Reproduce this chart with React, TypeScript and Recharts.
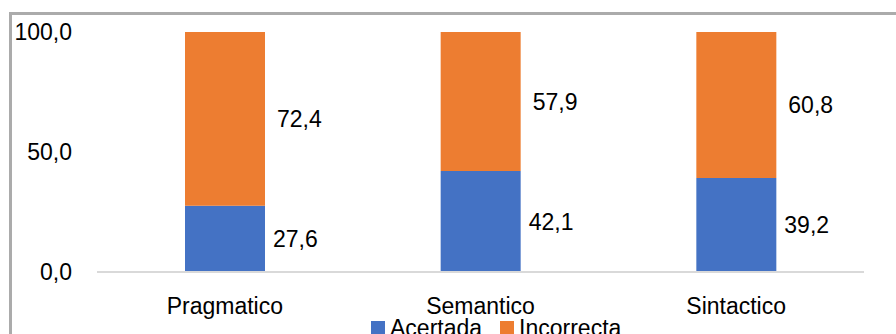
import React from "react";
import { BarChart, Bar, XAxis, YAxis, LabelList } from "recharts";

const categories = ["Pragmatico", "Semantico", "Sintactico"];
const acertada = [27.6, 42.1, 39.2];
const incorrecta = [72.4, 57.9, 60.8];
const yTicks = [0, 50, 100];
const series = [
  { key: "Acertada", color: "#4472C4" },
  { key: "Incorrecta", color: "#ED7D31" },
];

const data = categories.map((name, i) => ({
  name,
  Acertada: acertada[i],
  Incorrecta: incorrecta[i],
}));

const FONT = "'Liberation Sans', Arial, sans-serif";
const FS = 23;
const fmt = (v: any) => Number(v).toFixed(1).replace(".", ",");

const App = () => {
  return (
    <div style={{ position: "absolute", left: 0, top: 0, width: 896, height: 334, overflow: "hidden", background: "#fff" }}>
      <div
        style={{
          position: "absolute",
          left: 9,
          top: 12,
          width: 1000,
          height: 1000,
          borderLeft: "3px solid #ababab",
          borderTop: "3px solid #ababab",
        }}
      />
      <div style={{ position: "absolute", left: 0, top: 0 }}>
        <BarChart
          width={896}
          height={334}
          data={data}
          margin={{ top: 32, right: 32, bottom: 0, left: 10 }}
          style={{ fontFamily: FONT }}
        >
          <XAxis
            dataKey="name"
            tickLine={false}
            tickSize={0}
            tickMargin={26}
            axisLine={{ stroke: "#d9d9d9", strokeWidth: 2 }}
            tick={{ fill: "#000", fontSize: FS }}
            height={62}
          />
          <YAxis
            domain={[0, 100]}
            ticks={yTicks}
            width={87}
            axisLine={false}
            tickLine={false}
            tickSize={0}
            tickMargin={25}
            tickFormatter={fmt}
            tick={{ fill: "#000", fontSize: FS }}
          />
          <Bar dataKey="Acertada" stackId="a" fill="#4472C4" barSize={80} isAnimationActive={false}>
            <LabelList dataKey="Acertada" position="right" offset={8} formatter={fmt} fill="#000" fontSize={FS} />
          </Bar>
          <Bar dataKey="Incorrecta" stackId="a" fill="#ED7D31" barSize={80} isAnimationActive={false}>
            <LabelList dataKey="Incorrecta" position="right" offset={12} formatter={fmt} fill="#000" fontSize={FS} />
          </Bar>
        </BarChart>
      </div>
      <div
        style={{
          position: "absolute",
          left: 371,
          top: 315,
          display: "flex",
          alignItems: "center",
          fontFamily: FONT,
          fontSize: FS,
          lineHeight: "26px",
          color: "#000",
          whiteSpace: "nowrap",
        }}
      >
        {series.map((s) => (
          <div key={s.key} style={{ display: "flex", alignItems: "center", marginRight: 18 }}>
            <span style={{ width: 14, height: 14, background: s.color, display: "inline-block", marginRight: 5 }} />
            <span>{s.key}</span>
          </div>
        ))}
      </div>
    </div>
  );
};

export default App;
